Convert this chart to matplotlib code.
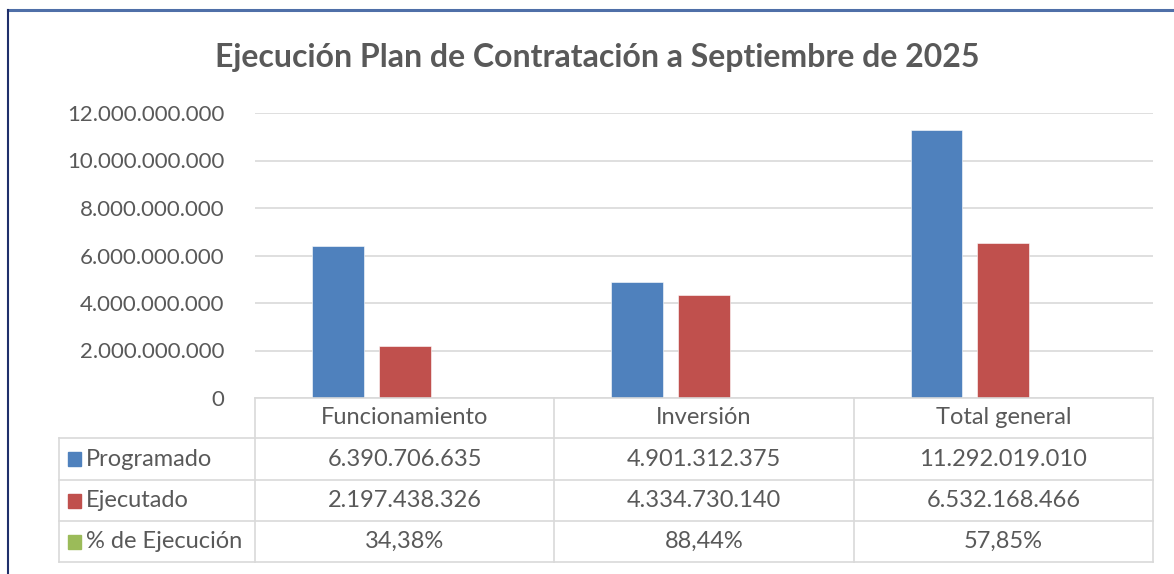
import matplotlib.pyplot as plt
from matplotlib.lines import Line2D
from matplotlib.patches import Rectangle
from matplotlib.ticker import FuncFormatter
import numpy as np

# Data for the contracting plan chart
categories = ['Funcionamiento', 'Inversión', 'Total general']
series_names = ['Programado', 'Ejecutado', '% de Ejecución']
programado = [6390706635, 4901312375, 11292019010]
ejecutado = [2197438326, 4334730140, 6532168466]
pct_ejecucion = [0.3438, 0.8844, 0.5785]
colors = ['#4F81BD', '#C0504D', '#9BBB59']
title = 'Ejecución Plan de Contratación a Septiembre de 2025'

W, H = 1174, 574
plt.rcParams['font.family'] = ['Lato', 'DejaVu Sans']
txt_color = '#595959'
grid_color = '#D9D9D9'
fs = 17

fig = plt.figure(figsize=(W / 100, H / 100), dpi=100)


def fx(x):
    return x / W


def fy(y):
    return 1 - y / H


# plot area in pixel coords
left, right, top, bottom = 255, 1153, 113, 398
ax = fig.add_axes([fx(left), fy(bottom), fx(right - left), (bottom - top) / H])

x = np.arange(len(categories))
width = 0.173
offs = [-0.223, 0, 0.223]
for vals, off, c in zip([programado, ejecutado, pct_ejecucion], offs, colors):
    ax.bar(x + off, vals, width, color=c, edgecolor='white', linewidth=0.4, zorder=3)

ax.set_xlim(-0.5, len(categories) - 0.5)
ax.set_ylim(0, 12e9)
ax.set_yticks(np.arange(0, 12e9 + 1, 2e9))
ax.yaxis.set_major_formatter(FuncFormatter(lambda v, p: f'{int(v):,}'.replace(',', '.')))
ax.tick_params(axis='y', length=0, pad=22, labelsize=16, labelcolor=txt_color)
ax.set_xticks([])
ax.grid(axis='y', color=grid_color, linewidth=1.2, zorder=0)
for s in ax.spines.values():
    s.set_visible(False)

# title
fig.text(fx(597), fy(57), title, ha='center', va='center', fontsize=23,
         fontweight='bold', color=txt_color)

# data table under the plot area
rows_y = [398, 438, 480, 521, 562]
cols_x = [left + (right - left) * i / len(categories) for i in range(len(categories) + 1)]
tab_left = 59


def hline(y, x0, x1):
    fig.add_artist(Line2D([fx(x0), fx(x1)], [fy(y), fy(y)], color=grid_color, lw=1.2))


def vline(x0, y0, y1):
    fig.add_artist(Line2D([fx(x0), fx(x0)], [fy(y0), fy(y1)], color=grid_color, lw=1.2))


hline(rows_y[0], left, right)
for y in rows_y[1:]:
    hline(y, tab_left, right)
for xc in cols_x:
    vline(xc, rows_y[0], rows_y[-1])
vline(tab_left, rows_y[1], rows_y[-1])

for i, cat in enumerate(categories):
    cx = (cols_x[i] + cols_x[i + 1]) / 2
    fig.text(fx(cx), fy((rows_y[0] + rows_y[1]) / 2), cat, ha='center', va='center',
             fontsize=fs, color=txt_color)

row_vals = [
    [f'{v:,}'.replace(',', '.') for v in programado],
    [f'{v:,}'.replace(',', '.') for v in ejecutado],
    [f'{v * 100:.2f}%'.replace('.', ',') for v in pct_ejecucion],
]
for r, (name, c, vals) in enumerate(zip(series_names, colors, row_vals)):
    yc = (rows_y[r + 1] + rows_y[r + 2]) / 2
    fig.add_artist(Rectangle((fx(68), fy(yc + 7)), fx(13), 14 / H, color=c))
    fig.text(fx(86), fy(yc), name, ha='left', va='center', fontsize=fs, color=txt_color)
    for i, v in enumerate(vals):
        cx = (cols_x[i] + cols_x[i + 1]) / 2
        fig.text(fx(cx), fy(yc), v, ha='center', va='center', fontsize=fs, color=txt_color)

# outer frame (top and left edges)
fig.add_artist(Line2D([fx(8), fx(W)], [fy(10), fy(10)], color='#4F6FA8', lw=2.2))
fig.add_artist(Line2D([fx(8), fx(8)], [fy(10), fy(H)], color='#1F2F6B', lw=1.5))

fig.savefig('out.png', dpi=100)
